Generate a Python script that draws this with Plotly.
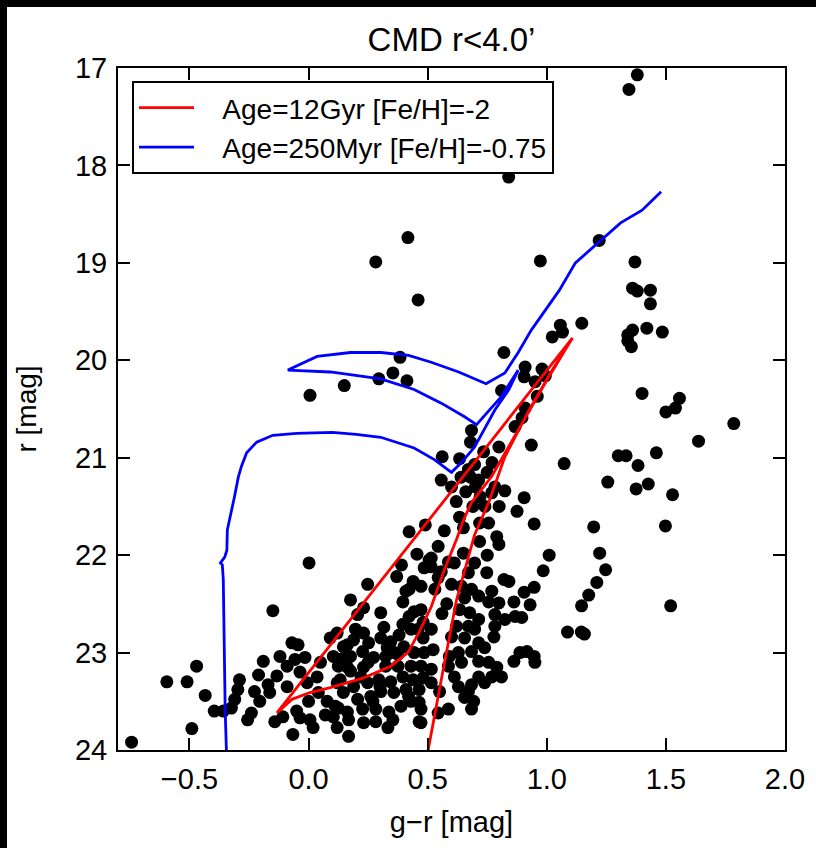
import plotly.graph_objects as go

## isocronas
red_gr = [0.494, 0.502, 0.557, 0.621, 0.697, 0.756, 0.824, 0.926, 1.023, 1.108,
          0.994, 0.883, 0.769, 0.684, 0.650, 0.621, 0.570, 0.515, 0.464, 0.417,
          0.345, 0.231, 0.091, 0.006, -0.070, -0.133,
          0.176, 0.502, 0.811, 1.108]
red_r = [24.2, 24.0, 23.28, 22.46, 21.79, 21.46, 20.99, 20.51, 20.10, 19.77,
         20.23, 20.71, 21.19, 21.46, 21.64, 21.84, 22.15, 22.53, 22.79, 23.00,
         23.14, 23.26, 23.36, 23.41, 23.48, 23.62,
         22.66, 21.64, 20.69, 19.77]

blue_gr = [-0.345, -0.345, -0.350, -0.354, -0.358, -0.362, -0.370, -0.352, -0.343, -0.341,
           -0.326, -0.311, -0.295, -0.282, -0.260, -0.218, -0.150, -0.050, 0.100, 0.200,
           0.303, 0.443, 0.528, 0.575, 0.600, 0.642, 0.697, 0.782, 0.841, 0.880,
           0.810, 0.705, 0.655, 0.557, 0.443, 0.303, 0.091, -0.087,
           0.036, 0.176, 0.303, 0.420, 0.515, 0.630, 0.745, 0.824, 0.880, 0.935,
           1.000, 1.053, 1.120, 1.220, 1.310, 1.400, 1.480]
blue_r = [24.2, 24.0, 23.6, 22.9, 22.25, 22.1, 22.08, 22.02, 21.95, 21.74,
          21.55, 21.4, 21.2, 21.09, 20.95, 20.84, 20.77, 20.75, 20.74, 20.76,
          20.79, 20.9, 21.02, 21.1, 21.15, 21.05, 20.89, 20.51, 20.3, 20.1,
          20.37, 20.66, 20.58, 20.44, 20.30, 20.19, 20.12, 20.1,
          19.96, 19.92, 19.92, 19.95, 20.02, 20.12, 20.24, 20.13, 19.92, 19.69,
          19.47, 19.28, 19.0, 18.78, 18.59, 18.46, 18.27]

## estrelas (g-r, r)
stars_gr = [
    0.40, 1.38, 1.345, 0.84, 0.417, 0.282, 0.973, 0.46, 1.22, 1.37,
    1.36, 1.38, 1.435, 1.435, 1.147, 1.36, 1.34, 1.34, 1.355, 1.42,
    1.485, 1.40, 1.557, 1.54, 1.50, 1.785, 1.637, 1.30, 1.333, 1.46,
    1.383, 1.073, 1.256, 1.375, 1.426, 1.528, 1.197, 1.498, 1.222, 1.247,
    1.21, 1.176, 1.146, 1.52, 1.087, 1.158, 1.145, 1.01, 0.985, 0.947,
    0.905, 0.862, 0.93, 0.867, 0.895, 0.947, 0.862, 0.887, 0.917, 0.947,
    0.95,
    0.006, 0.15, 0.295, 0.354, 0.384, 0.413, 0.82, 1.057, 1.066, 1.023,
    0.909, 0.905, 0.98, 0.994, 0.951, 0.96, 0.909, 0.81, 0.896, 0.867,
    0.935, 0.684, 0.68, 0.561, 0.634, 0.557, 0.735, 0.799, 0.697, 0.671,
    0.714, 0.782, 0.824, 0.905, 0.875, 0.769, 0.634, 0.718, 0.756, 0.79,
    0.57, 0.49, 0.422, 0.65, 0.68, 0.70, 0.66, 0.72, 0.74, 0.69,
    0.62, 0.75, 0.60, 0.64, 0.77, 0.80,
    0.248, 0.455, 0.544, 0.799, 0.718, 0.515, 0.515, 0.485, 0.557, 0.587,
    0.65, 0.697, 0.671, 0.748, 0.82, 0.841, 0.769, 0.799, 0.756, 0.714,
    0.684, 0.642, 0.655, 0.634, 0.676, 0.714, 0.782, 0.824, 0.782, 0.778,
    0.697, 0.671, 0.621, 0.60, 0.655, 0.714, 0.739, 0.684, 0.629, 0.642,
    0.714, 0.756, 0.79, 0.81, 0.769, 0.739, 0.714, 0.684, 0.671, 0.655,
    0.693, 0.684, 0.629, 0.612, 0.587, 0.591, 0.587, 0.544, 0.464, 0.439,
    0.409, 0.396, 0.472, 0.443, 0.472, 0.422, 0.481, 0.46, 0.43, 0.396,
    0.38, 0.316, 0.303, 0.345, 0.40, 0.481, 0.515, 0.523, 0.485, 0.443,
    0.375, 0.252, 0.231, 0.197, 0.189, 0.227, 0.176, 0.273, 0.324, 0.146,
    0.12, 0.125, 0.176, 0.231, 0.324, 0.375, 0.43, 0.472, 0.515, 0.133,
    0.189, 0.248, 0.295, 0.345, 0.396, 0.439, 0.481, 0.515, 0.464, 0.409,
    0.358, 0.303, 0.261, 0.206, 0.146, 0.112, 0.163, 0.227, 0.282, 0.337,
    0.388, 0.43, 0.464, 0.472, 0.12, 0.168, 0.231, 0.282, 0.333, 0.354,
    0.472, 0.422, 0.506, 0.544, 0.612, 0.231, 0.206, 0.303, 0.176, 0.39,
    0.37,
    0.002, -0.15, -0.595, -0.51, -0.47, -0.434, -0.396, -0.49, -0.743, -0.358,
    -0.324, -0.31, -0.297, -0.29, -0.256, -0.227, -0.21, -0.205, -0.24, -0.19,
    -0.17, -0.163, -0.133, -0.12, -0.142, -0.108, -0.066, -0.036, 0.006, 0.019,
    -0.07, -0.044, -0.057, -0.09, -0.015, -0.09, -0.036, -0.006, 0.036, 0.041,
    0.078, 0.07, 0.091, 0.104, 0.133, 0.163, 0.155, 0.12, 0.168, 0.104,
    0.125, 0.163,
    0.25, 0.30, 0.42, 0.36, 0.27, 0.05, 0.00, -0.05, 0.55, 0.56,
    0.53, 0.58, 0.60, 0.75, 0.33, 0.22,
]
stars_r = [
    16.93, 17.07, 17.22, 18.12, 18.74, 18.99, 18.98, 19.38, 18.77, 18.99,
    19.26, 19.29, 19.28, 19.42, 19.62, 19.69, 19.74, 19.80, 19.86, 19.67,
    19.71, 20.34, 20.39, 20.49, 20.53, 20.65, 20.83, 20.98, 20.98, 20.95,
    21.08, 21.06, 21.25, 21.32, 21.27, 21.38, 21.71, 21.70, 21.98, 22.15,
    22.28, 22.41, 22.52, 22.52, 22.79, 22.81, 22.79, 22.00, 22.16, 22.33,
    22.38, 22.48, 22.51, 22.63, 22.64, 21.68, 23.09, 23.00, 22.99, 23.04,
    23.10,
    20.36, 20.26, 20.19, 20.13, 19.97, 20.21, 19.92, 19.64, 19.71, 19.76,
    20.07, 20.17, 20.09, 20.16, 20.22, 20.37, 20.49, 20.31, 20.59, 20.68,
    20.87, 20.72, 20.84, 20.99, 21.01, 21.23, 20.94, 20.89, 21.07, 21.12,
    21.23, 21.30, 21.34, 21.41, 21.55, 21.36, 21.61, 21.67, 21.67, 21.81,
    21.75, 21.69, 21.76, 21.72, 21.20, 21.30, 21.35, 21.40, 21.50, 21.50,
    21.45, 21.15, 21.30, 21.20, 21.05, 21.50,
    22.30, 21.99, 21.91, 21.89, 21.86, 22.03, 22.12, 22.13, 22.17, 22.07,
    21.98, 22.08, 22.18, 22.18, 22.25, 22.27, 22.37, 22.49, 22.48, 22.42,
    22.35, 22.32, 22.44, 22.56, 22.59, 22.66, 22.61, 22.66, 22.73, 22.84,
    22.76, 22.73, 22.73, 22.84, 22.85, 22.90, 22.95, 22.99, 23.00, 23.10,
    23.09, 23.10, 23.15, 23.25, 23.25, 23.31, 23.25, 23.33, 23.40, 23.46,
    23.50, 23.58, 23.35, 23.25, 23.14, 23.04, 23.58, 23.62, 23.71, 22.27,
    22.37, 22.48, 22.32, 22.58, 22.56, 22.63, 22.69, 22.76, 22.76, 22.71,
    22.82, 22.74, 22.85, 22.89, 22.94, 22.85, 22.76, 22.97, 23.00, 23.00,
    23.02, 22.90, 22.80, 22.76, 22.87, 22.99, 23.04, 23.05, 23.04, 22.94,
    22.80, 23.14, 23.19, 23.15, 23.14, 23.14, 23.14, 23.14, 23.17, 23.28,
    23.35, 23.31, 23.28, 23.30, 23.25, 23.28, 23.26, 23.31, 23.38, 23.38,
    23.41, 23.40, 23.45, 23.48, 23.41, 23.55, 23.61, 23.58, 23.58, 23.61,
    23.55, 23.50, 23.51, 23.58, 23.77, 23.86, 23.72, 23.71, 23.77, 23.69,
    23.72, 22.35, 22.05, 22.23, 22.08, 22.54, 22.61, 22.59, 22.46, 22.10,
    22.22,
    22.08, 22.57, 23.30, 23.30, 23.14, 23.44, 23.60, 23.78, 23.92, 23.60,
    23.57, 23.48, 23.38, 23.28, 23.69, 23.40, 23.23, 23.50, 23.62, 23.09,
    23.33, 23.41, 23.24, 23.04, 23.71, 23.66, 23.84, 23.67, 23.69, 23.77,
    22.90, 22.92, 23.07, 23.14, 23.05, 23.35, 23.20, 23.31, 23.25, 23.41,
    23.50, 23.64, 22.85, 23.04, 23.07, 23.15, 23.04, 23.31, 23.69, 23.66,
    23.57, 22.92,
    23.10, 23.35, 23.45, 23.00, 23.50, 23.10, 23.50, 23.60, 23.40, 22.60,
    22.35, 22.50, 22.30, 22.00, 22.95, 23.25,
]

x_ticks = [-0.5, 0.0, 0.5, 1.0, 1.5, 2.0]
y_ticks = [17, 18, 19, 20, 21, 22, 23, 24]

fonte = "Liberation Sans, Arial, sans-serif"
recuo = "\u00a0\u00a0\u00a0"  # afasta o texto da amostra de linha na legenda

fig = go.Figure()
fig.add_trace(go.Scatter(x=stars_gr, y=stars_r, mode="markers", showlegend=False,
                         marker=dict(color="black", size=13, line_width=0)))
fig.add_trace(go.Scatter(x=red_gr, y=red_r, mode="lines", name=recuo + "Age=12Gyr [Fe/H]=-2",
                         line=dict(color="#ff0000", width=2.8)))
fig.add_trace(go.Scatter(x=blue_gr, y=blue_r, mode="lines", name=recuo + "Age=250Myr [Fe/H]=-0.75",
                         line=dict(color="#0000ff", width=2.8)))

eixo = dict(showline=True, linewidth=2, linecolor="black", mirror="ticks",
            ticks="inside", ticklen=12, tickwidth=1.5, tickcolor="black",
            showgrid=False, zeroline=False, tickfont=dict(size=29, color="black"))

fig.update_xaxes(eixo, range=[-0.8, 2.0], tickvals=x_ticks, tickformat=".1f", ticklabelstandoff=2,
                 title=dict(text="g\u2212r [mag]", font=dict(size=29, color="black"), standoff=18))
fig.update_yaxes(eixo, range=[24, 17], tickvals=y_ticks, ticklabelstandoff=3,
                 title=dict(text="r [mag]", font=dict(size=28, color="black"), standoff=30))

fig.update_layout(
    width=816, height=848,
    margin=dict(l=118, r=31, t=68, b=98),
    paper_bgcolor="white", plot_bgcolor="white",
    font=dict(family=fonte, color="black"),
    title=dict(text="CMD r&lt;4.0\u2019", x=0.5533, xanchor="center", y=0.9540, yanchor="middle",
               font=dict(size=33, color="black")),
    legend=dict(x=0.021, y=0.981, xanchor="left", yanchor="top", bgcolor="white",
                bordercolor="black", borderwidth=2, itemwidth=55,
                font=dict(size=28, color="black")),
    showlegend=True,
)

# faixas pretas no topo e à esquerda da imagem
fig.add_shape(type="rect", xref="paper", yref="paper", x0=-0.25, x1=-0.1664, y0=-0.3, y1=1.3,
              fillcolor="black", line_width=0, layer="above")
fig.add_shape(type="rect", xref="paper", yref="paper", x0=-0.25, x1=1.2, y0=1.0894, y1=1.3,
              fillcolor="black", line_width=0, layer="above")

# sem margem do body, a figura ocupa a janela toda
fig.write_html("out.html", config={"displayModeBar": False},
               post_script="document.body.style.margin='0';"
                           "document.documentElement.style.overflow='hidden';"
                           "document.body.style.overflow='hidden';")
